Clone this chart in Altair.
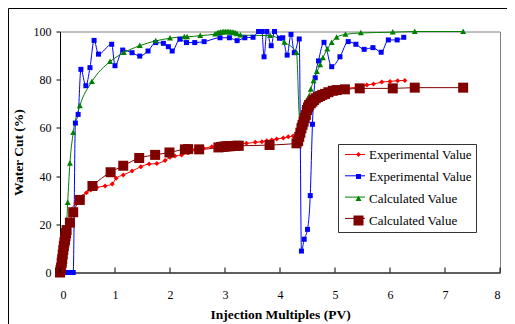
import altair as alt
import pandas as pd

# ---------------- data ----------------
red_x = [0, 0.04, 0.08, 0.12, 0.16, 0.21, 0.285, 0.35, 0.41, 0.48, 0.56, 0.67, 0.82, 0.95,
         1.02, 1.15, 1.31, 1.47, 1.62, 1.76, 1.91, 2.0, 2.09, 2.21, 2.33, 2.45, 2.61, 2.76,
         2.91, 3.06, 3.24, 3.39, 3.55, 3.67, 3.76, 3.85, 3.94, 4.06, 4.15, 4.24, 4.30, 4.36,
         4.42, 4.48, 4.55, 4.63, 4.72, 4.82, 4.93, 5.05, 5.21, 5.45, 5.58, 5.70, 5.85, 6.0,
         6.14, 6.27]
red_y = [0, 4, 9, 15, 20, 26, 28.7, 30.5, 31.5, 33.1, 34.2, 35.3, 35.9, 36.7,
         39.1, 40.5, 42.1, 43.9, 45.0, 45.2, 46.5, 47.8, 48.3, 48.8, 49.7, 50.8, 51.5, 52.2,
         52.8, 53.2, 53.3, 53.6, 54.0, 54.3, 54.7, 55.0, 55.4, 55.8, 56.3, 56.6, 57.0, 60,
         64, 67.5, 70, 72, 73.5, 74.5, 75.2, 75.8, 76.4, 77.1, 77.8, 78.2, 79.0, 79.3,
         79.6, 79.7]

blue_x = [0, 0.05, 0.1, 0.15, 0.2, 0.24, 0.28, 0.33, 0.38, 0.47, 0.545, 0.62, 0.70, 0.94,
          1.0, 1.14, 1.31, 1.45, 1.6, 1.74, 1.88, 1.97, 2.04, 2.18, 2.30, 2.45, 2.62, 2.91,
          3.08, 3.22, 3.36, 3.51, 3.61, 3.67, 3.71, 3.76, 3.84, 3.90, 3.99, 4.05, 4.13, 4.20,
          4.26, 4.35, 4.39, 4.44, 4.50, 4.55, 4.59, 4.64, 4.70, 4.80, 4.94, 5.09, 5.24, 5.38,
          5.53, 5.69, 5.84, 5.97, 6.13, 6.25]
blue_y = [0, 0, 0, 0, 0, 0, 62, 65.6, 84.3, 77.5, 85, 96.3, 90.6, 94.7,
          85.8, 92.3, 91.2, 89.8, 91.9, 95.4, 95.1, 93.7, 91.9, 96.8, 95.4, 95.4, 95.8, 97.4,
          97.4, 96.2, 97.4, 97.6, 100, 100, 89.5, 100, 94.1, 100, 97.2, 97.4, 90.2, 98.8,
          91.2, 96.9, 8.9, 13.8, 17.9, 31.9, 61.5, 80.8, 87.8, 95.5, 85.4, 89.5, 95.8, 94.7,
          92.6, 93.3, 91.4, 96.5, 96.5, 97.6]

green_x = [0, 0.04, 0.08, 0.10, 0.14, 0.18, 0.24, 0.36, 0.58, 0.91, 1.16, 1.45, 1.74, 2.0,
           2.26, 2.31, 2.55, 2.82, 2.86, 2.89, 2.92, 2.95, 2.98, 3.01, 3.04, 3.07, 3.10, 3.13,
           3.16, 3.19, 3.22, 3.28, 3.82, 4.08, 4.30, 4.36, 4.40, 4.44, 4.48, 4.53, 4.56, 4.61,
           4.67, 4.73, 4.78, 4.86, 4.94, 5.03, 5.19, 5.47, 6.05, 6.45, 7.33]
green_y = [0, 0.5, 3.8, 9.6, 29, 45.3, 58, 69.1, 79.2, 87.5, 91.2, 94.1, 96.1, 97.2,
           97.8, 97.8, 98.3, 98.9, 99.3, 99.5, 99.6, 99.7, 99.8, 99.8, 99.8, 99.8, 99.7, 99.6,
           99.5, 99.3, 99.0, 98.5, 98.3, 95.5, 91.2, 62.6, 66, 69, 71, 73.2, 76, 79.5,
           83.3, 86.1, 89.1, 92.7, 95.4, 97.6, 98.8, 99.4, 99.7, 100, 100]

dred_x = [0, 0.01, 0.02, 0.03, 0.04, 0.05, 0.06, 0.07, 0.08, 0.09, 0.10, 0.11, 0.12, 0.18,
          0.24, 0.36, 0.59, 0.92, 1.15, 1.44, 1.73, 1.99, 2.27, 2.33, 2.53, 2.88, 2.93, 2.97,
          3.01, 3.05, 3.09, 3.13, 3.17, 3.21, 3.25, 3.81, 4.30, 4.33, 4.35, 4.37, 4.39, 4.41,
          4.43, 4.45, 4.47, 4.49, 4.51, 4.53, 4.56, 4.59, 4.62, 4.65, 4.69, 4.73, 4.77, 4.82,
          4.88, 4.96, 5.03, 5.18, 5.45, 6.05, 6.45, 7.33]
dred_y = [0, 1, 2, 4, 5.6, 7.5, 9.3, 11, 12.5, 13.5, 15, 16.3, 17.6, 20.7,
          25, 30.1, 35.9, 41.6, 44.3, 47.5, 48.8, 49.8, 51.1, 51.2, 51.1, 51.9, 52.1, 52.2,
          52.3, 52.4, 52.4, 52.5, 52.5, 52.6, 52.6, 52.9, 53.6, 54.5, 56.3, 58, 59.8, 61.3,
          62.6, 64, 65.4, 67.4, 68.5, 69.5, 70.2, 70.9, 71.6, 72.3, 72.8, 73.2, 73.7, 74.1,
          74.8, 75.4, 75.7, 76.0, 76.4, 76.4, 76.7, 76.7]

series_keys = ["Exp1", "Exp2", "Calc1", "Calc2"]
line_keys = ["L-Exp1", "L-Exp2", "L-Calc1", "L-Calc2"]
series_colors = ["#FF0000", "#0000FF", "#008000", "#800000"]
x_ticks = [0, 1, 2, 3, 4, 5, 6, 7, 8]

rows = []
for key, lkey, xs, ys in zip(series_keys, line_keys, [red_x, blue_x, green_x, dred_x],
                             [red_y, blue_y, green_y, dred_y]):
    for a, b in zip(xs, ys):
        rows.append({"x": a, "y": b, "s_line": lkey, "s_pt": key})
df = pd.DataFrame(rows)

FONT = "Liberation Serif"
label_expr = "indexof(datum.label, 'Exp') >= 0 ? 'Experimental Value' : 'Calculated Value'"

shapes = [
    "diamond",
    "square",
    "M0,-1.25L1.2,0.95L-1.2,0.95Z",
    "M-2,-2H2V2H-2Z",
]

axis_style = dict(
    grid=False, domainColor="black", tickColor="black", labelColor="black",
    titleColor="black", labelFont=FONT, labelFontSize=12, titleFont=FONT,
    titleFontSize=13.5, titleFontWeight="bold", domainWidth=1,
)

xs = alt.X("x:Q", scale=alt.Scale(domain=[0, 8], nice=False),
           axis=alt.Axis(values=x_ticks, ticks=False, labelPadding=17,
                         title="Injection Multiples (PV)", titlePadding=7, **axis_style))
ys = alt.Y("y:Q", scale=alt.Scale(domain=[0, 100], nice=False),
           axis=alt.Axis(values=list(range(0, 101, 10)), tickSize=4,
                         labelPadding=5, title="Water Cut (%)", titlePadding=8, **axis_style))

lines = alt.Chart(df).mark_line(interpolate="monotone", strokeWidth=1).encode(
    x=xs, y=ys,
    stroke=alt.Stroke("s_line:N", scale=alt.Scale(domain=line_keys, range=series_colors),
                      legend=alt.Legend(orient="none", legendX=284.5, legendY=112.5,
                                        title=None, symbolType="stroke", symbolSize=400,
                                        symbolStrokeWidth=1, padding=0, rowPadding=3.3,
                                        labelExpr="''", labelFontSize=13, labelFont=FONT)),
)

points = alt.Chart(df).mark_point(filled=True, size=25, opacity=1, strokeWidth=0).encode(
    x="x:Q", y="y:Q",
    fill=alt.Fill("s_pt:N", scale=alt.Scale(domain=series_keys, range=series_colors),
                  legend=alt.Legend(orient="none", legendX=278, legendY=112.5, title=None,
                                    padding=4, symbolOffset=10, rowPadding=8.0,
                                    labelOffset=4, labelFontSize=13, labelFont=FONT,
                                    labelColor="black", labelExpr=label_expr,
                                    strokeColor="#333333", symbolSize=25,
                                    symbolStrokeWidth=0, zindex=1)),
    shape=alt.Shape("s_pt:N", scale=alt.Scale(domain=series_keys, range=shapes)),
)

xtick_df = pd.DataFrame({"t": x_ticks})
xtick_rules = alt.Chart(xtick_df).mark_rule(color="black", strokeWidth=1).encode(
    x="t:Q", y=alt.value(241), y2=alt.value(236)
)

one = pd.DataFrame({"k": [0]})
frame_top = alt.Chart(one).mark_rule(color="black", strokeWidth=1).encode(
    x=alt.value(-51.5), x2=alt.value(700), y=alt.value(-23))
frame_left = alt.Chart(one).mark_rule(color="black", strokeWidth=1).encode(
    x=alt.value(-51.5), y=alt.value(-23), y2=alt.value(700))

chart = alt.layer(frame_top, frame_left, lines, points, xtick_rules).properties(
    width=440, height=241,
    padding={"left": 52, "top": 23.5, "right": 7, "bottom": 51},
    autosize=alt.AutoSizeParams(type="none"),
    background="white",
).configure(font=FONT).configure_view(
    stroke="#808080", strokeWidth=1
)

chart.save("out.html", embed_options={"renderer": "svg", "actions": False})
